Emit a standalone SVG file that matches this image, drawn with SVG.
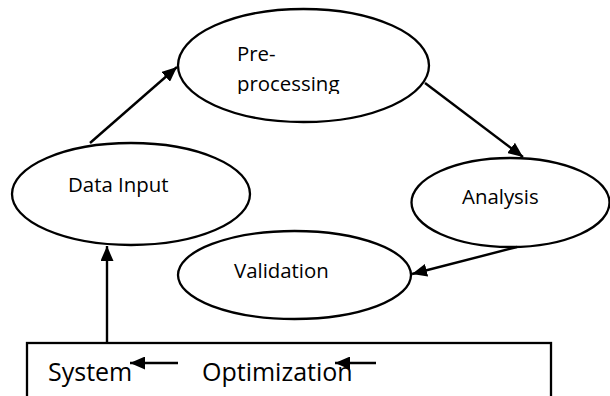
<svg xmlns="http://www.w3.org/2000/svg" width="610" height="396" viewBox="0 0 610 396">
<style>
.node{fill:#fff;stroke:#000;stroke-width:2.3}
.lbl{font-family:"Open Sans","Liberation Sans",sans-serif;font-size:20.4px;fill:#000}
.big{font-family:"Open Sans","Liberation Sans",sans-serif;font-size:25px;fill:#000}
.conn{stroke:#000;stroke-width:2.4;fill:none;marker-end:url(#ah)}
</style>
<defs>
<marker id="ah" markerUnits="userSpaceOnUse" markerWidth="15" markerHeight="13" refX="15" refY="6.5" orient="auto">
<path d="M0,0 L15,6.5 L0,13 z" fill="#000"/>
</marker>
<clipPath id="ppclip"><rect x="0" y="0" width="610" height="94"/></clipPath>
</defs>
<rect width="610" height="396" fill="#fff"/>
<g id="preprocessing">
<ellipse class="node" cx="303.5" cy="65.5" rx="125.5" ry="56.5"/>
<text class="lbl" x="237" y="61">Pre-</text>
<text class="lbl" x="237" y="91" clip-path="url(#ppclip)">processing</text>
</g>
<g id="datainput">
<ellipse class="node" cx="131" cy="194" rx="119" ry="51"/>
<text class="lbl" x="68" y="192">Data Input</text>
</g>
<g id="analysis">
<ellipse class="node" cx="510.5" cy="202.5" rx="99" ry="44.5"/>
<text class="lbl" x="462" y="204">Analysis</text>
</g>
<g id="validation">
<ellipse class="node" cx="294.5" cy="275" rx="116.5" ry="44"/>
<text class="lbl" x="234" y="278">Validation</text>
</g>
<g id="systembox">
<rect class="node" x="27" y="343" width="524" height="70"/>
<text class="big" x="48" y="381">System</text>
<text class="big" x="202" y="381">Optimization</text>
</g>
<g id="connectors">
<line class="conn" x1="90" y1="143" x2="177" y2="67"/>
<line class="conn" x1="425" y1="83" x2="523" y2="157"/>
<line class="conn" x1="517" y1="247" x2="412" y2="274"/>
<line class="conn" x1="107" y1="342" x2="107" y2="246"/>
<line class="conn" x1="178" y1="363" x2="130" y2="363"/>
<line class="conn" x1="376" y1="363" x2="335" y2="363"/>
</g>
</svg>
